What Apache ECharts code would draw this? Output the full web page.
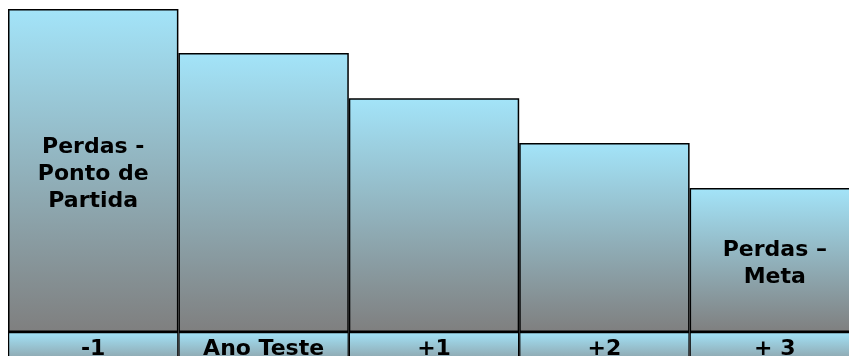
<!DOCTYPE html>
<html>
<head>
<meta charset="utf-8">
<script src="https://cdn.jsdelivr.net/npm/echarts@6/dist/echarts.min.js"></script>
<style>
  html, body { margin: 0; padding: 0; background: #fff; }
  #chart { width: 849px; height: 356px; }
</style>
</head>
<body>
<div id="chart"></div>
<script>
// Loss trajectory: starting point, test year, then three years to target
const categories = ['-1', 'Ano Teste', '+1', '+2', '+ 3'];
const lossValues = [100, 86.4, 72.4, 58.5, 44.6];
const barNotes = ['Perdas -\nPonto de\nPartida', '', '', '', 'Perdas –\nMeta'];
const stripValues = [1, 1, 1, 1, 1];

const barFill = new echarts.graphic.LinearGradient(0, 0, 0, 1, [
  { offset: 0, color: '#a3e4f9' },
  { offset: 1, color: '#7f7f7f' }
]);
const stripFill = new echarts.graphic.LinearGradient(0, 0, 0, 1, [
  { offset: 0, color: '#a3e4f9' },
  { offset: 1, color: '#8a9aa0' }
]);

const labelFont = {
  fontFamily: 'DejaVu Sans',
  fontWeight: 'bold',
  fontSize: 22,
  color: '#000'
};

// The last column runs past the right edge of the page
const plotWidth = 852;

const chart = echarts.init(document.getElementById('chart'));
chart.setOption({
  animation: false,
  grid: [
    { left: 8, width: plotWidth, top: 9, bottom: 24, outerBoundsMode: 'none', containLabel: false },
    { left: 8, width: plotWidth, top: 332, bottom: -8, outerBoundsMode: 'none', containLabel: false }
  ],
  xAxis: [
    {
      type: 'category', gridIndex: 0, data: categories,
      axisLine: { show: false }, axisTick: { show: false },
      axisLabel: Object.assign({ margin: 6, interval: 0 }, labelFont),
      z: 10
    },
    {
      type: 'category', gridIndex: 1, data: categories,
      axisLine: { show: false }, axisTick: { show: false },
      axisLabel: { show: false }
    }
  ],
  yAxis: [
    { type: 'value', gridIndex: 0, min: 0, max: 100, show: false },
    { type: 'value', gridIndex: 1, min: 0, max: 1, show: false }
  ],
  series: [
    {
      type: 'bar', xAxisIndex: 0, yAxisIndex: 0,
      data: lossValues,
      barCategoryGap: '0%',
      itemStyle: { color: barFill, borderColor: '#000', borderWidth: 1.5 },
      label: Object.assign({
        show: true, position: 'inside', lineHeight: 27, align: 'center',
        offset: [0, 4],
        formatter: p => barNotes[p.dataIndex]
      }, labelFont),
      z: 3
    },
    {
      type: 'bar', xAxisIndex: 1, yAxisIndex: 1,
      data: stripValues,
      barCategoryGap: '0%',
      itemStyle: { color: stripFill, borderColor: '#000', borderWidth: 1.2 },
      silent: true,
      z: 1
    }
  ]
});
</script>
</body>
</html>
